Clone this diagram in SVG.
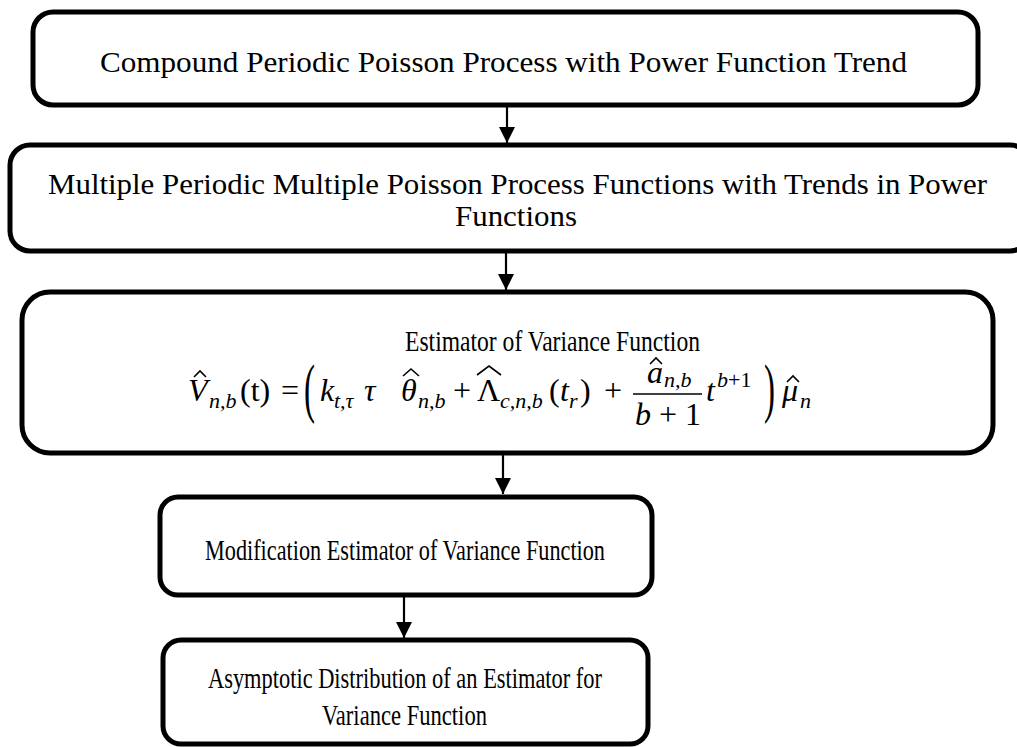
<svg xmlns="http://www.w3.org/2000/svg" width="1017" height="747" viewBox="0 0 1017 747">
<style>
.box{fill:#fff;stroke:#000;stroke-width:5}
.t{font-family:"Liberation Serif","Times New Roman",serif;font-size:30px;fill:#000}
.c{font-family:"Liberation Serif","Times New Roman",serif;font-size:30px;fill:#000}
.m{font-family:"Liberation Serif","Times New Roman",serif;font-size:32px;fill:#000}
.big{font-family:"Liberation Serif","Times New Roman",serif;font-size:66px;fill:#000}
.i{font-style:italic}
.s{font-family:"Liberation Serif","Times New Roman",serif;font-size:22px;font-style:italic;fill:#000}
.hat{fill:none;stroke:#000;stroke-width:1.6}
.conn line{stroke:#000;stroke-width:2.2}
</style>
<defs>
<marker id="ah" markerUnits="userSpaceOnUse" markerWidth="16" markerHeight="16" refX="16" refY="8" orient="auto">
<path d="M0,0 L16,8 L0,16 z" fill="#000"/>
</marker>
</defs>
<g class="conn">
<line x1="507" y1="105" x2="507" y2="143" marker-end="url(#ah)"/>
<line x1="506" y1="251" x2="506" y2="290" marker-end="url(#ah)"/>
<line x1="503" y1="453" x2="503" y2="494" marker-end="url(#ah)"/>
<line x1="404" y1="595" x2="404" y2="638" marker-end="url(#ah)"/>
</g>
<g id="n1">
<rect class="box" x="33" y="12" width="945" height="93" rx="20"/>
<text class="t" x="100" y="72" textLength="807" lengthAdjust="spacingAndGlyphs">Compound Periodic Poisson Process with Power Function Trend</text>
</g>
<g id="n2">
<rect class="box" x="10" y="145" width="1020" height="106" rx="20"/>
<text class="t" x="48" y="194" textLength="939" lengthAdjust="spacingAndGlyphs">Multiple Periodic Multiple Poisson Process Functions with Trends in Power</text>
<text class="t" x="455" y="226" textLength="122" lengthAdjust="spacingAndGlyphs">Functions</text>
</g>
<g id="n3">
<rect class="box" x="22" y="292" width="971" height="161" rx="28"/>
<text class="t" x="405" y="351" textLength="295" lengthAdjust="spacingAndGlyphs">Estimator of Variance Function</text>
<text class="m i" x="188" y="401">V</text>
<path class="hat" d="M194,377 L200,371 L206,377"/>
<text class="s" x="209" y="408">n,b</text>
<text class="m" x="240" y="401">(t)</text>
<text class="m" x="281" y="401">=</text>
<text class="big" transform="translate(304,410) scale(0.5,1)">(</text>
<text class="m i" x="320" y="401">k</text>
<text class="s" x="334" y="408">t,τ</text>
<text class="m i" x="364" y="401">τ</text>
<text class="m i" x="401" y="401">θ</text>
<path class="hat" d="M403,376 L411,369 L419,376"/>
<text class="s" x="418" y="408">n,b</text>
<text class="m" x="453" y="401">+</text>
<text class="m" x="477" y="401">Λ</text>
<path class="hat" d="M477,375 L489,366 L501,375"/>
<text class="s" x="500" y="408">c,n,b</text>
<text class="m" x="549" y="401">(</text>
<text class="m i" x="560" y="401">t</text>
<text class="s" x="569" y="408">r</text>
<text class="m" x="580" y="401">)</text>
<text class="m" x="604" y="401">+</text>
<line x1="633" y1="394" x2="702" y2="394" stroke="#000" stroke-width="1.6"/>
<text class="m i" x="647" y="383">a</text>
<path class="hat" d="M650,364 L656,358 L662,364"/>
<text class="s" x="664" y="387">n,b</text>
<text class="m" x="668" y="425" text-anchor="middle"><tspan class="i">b</tspan> + 1</text>
<text class="m i" x="706" y="401">t</text>
<text class="s" x="717" y="387">b<tspan font-style="normal">+1</tspan></text>
<text class="big" transform="translate(764,410) scale(0.5,1)">)</text>
<text class="m i" x="782" y="401">μ</text>
<path class="hat" d="M787,382 L793,376 L799,382"/>
<text class="s" x="800" y="408">n</text>
</g>
<g id="n4">
<rect class="box" x="160" y="497" width="492" height="98" rx="18"/>
<text class="c" x="205" y="560" textLength="400" lengthAdjust="spacingAndGlyphs">Modification Estimator of Variance Function</text>
</g>
<g id="n5">
<rect class="box" x="163" y="640" width="485" height="104" rx="18"/>
<text class="c" x="208" y="688" textLength="394" lengthAdjust="spacingAndGlyphs">Asymptotic Distribution of an Estimator for</text>
<text class="c" x="322" y="725" textLength="165" lengthAdjust="spacingAndGlyphs">Variance Function</text>
</g>
</svg>
